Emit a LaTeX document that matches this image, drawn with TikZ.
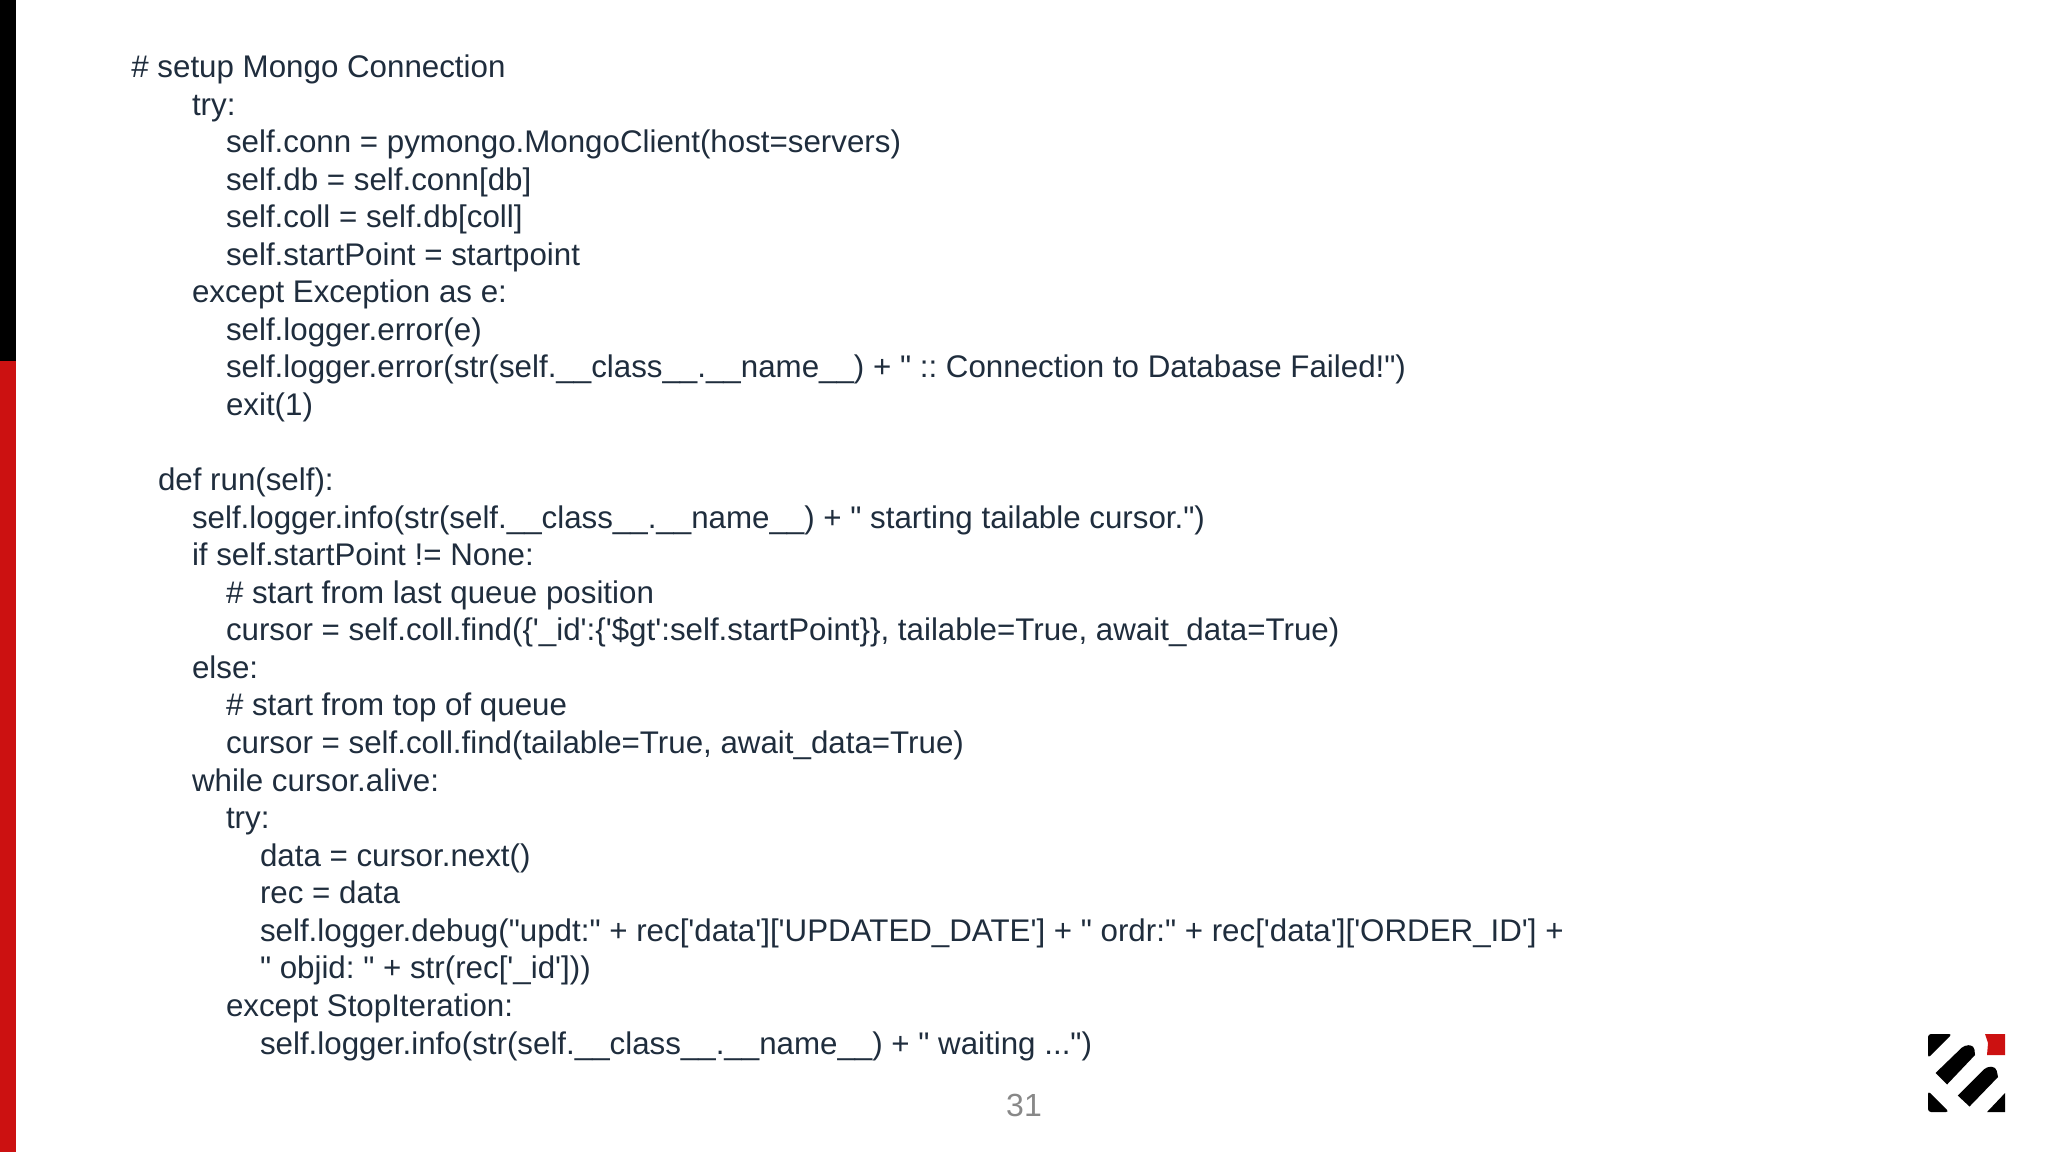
\documentclass[tikz,border=0pt]{standalone}
\usepackage{fontspec}
\newfontfamily\slidefont{Liberation Sans}
\definecolor{codeink}{HTML}{1F2D3D}
\definecolor{barred}{HTML}{CC1111}
\definecolor{pagegray}{HTML}{888888}
\tikzset{
  codeline/.style={anchor=base west, inner sep=0pt, text=codeink, font=\slidefont\frenchspacing\fontsize{15.65}{19}\selectfont},
  logomark/.style={fill=black, draw=none},
}
\begin{document}
\begin{tikzpicture}[x=0.5pt, y=-0.5pt]
 \useasboundingbox (0,0) rectangle (2048,1152);
 \fill[black] (0,0) rectangle (16,361);
 \fill[barred] (0,361) rectangle (16,1152);

 \node (setup) [codeline] at (131,77.4) {\# setup Mongo Connection};
 \node (try1) [codeline] at (191.6,115) {try:};
 \node (conn) [codeline] at (225.6,152.5) {self.conn = pymongo.MongoClient(host=servers)};
 \node (db) [codeline] at (225.6,190.1) {self.db = self.conn[db]};
 \node (coll) [codeline] at (225.6,227.6) {self.coll = self.db[coll]};
 \node (start) [codeline] at (225.6,265.2) {self.startPoint = startpoint};
 \node (except1) [codeline] at (191.6,302.8) {except Exception as e:};
 \node (err1) [codeline] at (225.6,340.3) {self.logger.error(e)};
 \node (err2) [codeline] at (225.6,377.9) {self.logger.error(str(self.\_\_class\_\_.\_\_name\_\_) + " :: Connection to Database Failed!")};
 \node (exit) [codeline] at (225.6,415.4) {exit(1)};

 \node (run) [codeline] at (157.6,490.6) {def run(self):};
 \node (info1) [codeline] at (191.6,528.1) {self.logger.info(str(self.\_\_class\_\_.\_\_name\_\_) + " starting tailable cursor.")};
 \node (if) [codeline] at (191.6,565.7) {if self.startPoint != None:};
 \node (cmt1) [codeline] at (225.6,603.2) {\# start from last queue position};
 \node (find1) [codeline] at (225.6,640.8) {cursor = self.coll.find(\{'\_id':\{'\$gt':self.startPoint\}\}, tailable=True, await\_data=True)};
 \node (else) [codeline] at (191.6,678.4) {else:};
 \node (cmt2) [codeline] at (225.6,715.9) {\# start from top of queue};
 \node (find2) [codeline] at (225.6,753.5) {cursor = self.coll.find(tailable=True, await\_data=True)};
 \node (while) [codeline] at (191.6,791) {while cursor.alive:};
 \node (try2) [codeline] at (225.6,828.6) {try:};
 \node (data) [codeline] at (259.6,866.2) {data = cursor.next()};
 \node (rec) [codeline] at (259.6,903.7) {rec = data};
 \node (debug) [codeline] at (259.6,941.3) {self.logger.debug("updt:" + rec['data']['UPDATED\_DATE'] + " ordr:" + rec['data']['ORDER\_ID'] +};
 \node (objid) [codeline] at (259.6,978.8) {" objid: " + str(rec['\_id']))};
 \node (except2) [codeline] at (225.6,1016.4) {except StopIteration:};
 \node (info2) [codeline] at (259.6,1054) {self.logger.info(str(self.\_\_class\_\_.\_\_name\_\_) + " waiting ...")};

 \node (page) [anchor=base, inner sep=0pt, text=pagegray, font=\slidefont\fontsize{16}{19}\selectfont] at (1024,1116.5) {31};

 % logo
 \fill[logomark, rounded corners=1.5pt] (1928,1058) -- (1928,1034) -- (1952,1034) -- cycle;
 \fill[logomark, rounded corners=1.5pt] (1928,1091) -- (1949,1112) -- (1928,1112) -- cycle;
 \fill[logomark] (2005,1093) -- (2005,1112) -- (1987,1112) -- cycle;
 \fill[logomark] (1935.5,1073) -- (1947,1084.5) -- (1975,1055) [rounded corners=2pt] -- (1974,1045.5) -- (1964.5,1045) [sharp corners] -- cycle;
 \fill[logomark] (1957.8,1095.6) -- (1969.5,1106.5) -- (1998,1077) [rounded corners=2pt] -- (1996,1067) -- (1986.8,1066.5) [sharp corners] -- cycle;
 \fill[barred] (1985,1034) -- (2005,1034) -- (2005,1055) -- (1987,1055) -- (1988,1043) -- cycle;
\end{tikzpicture}
\end{document}
